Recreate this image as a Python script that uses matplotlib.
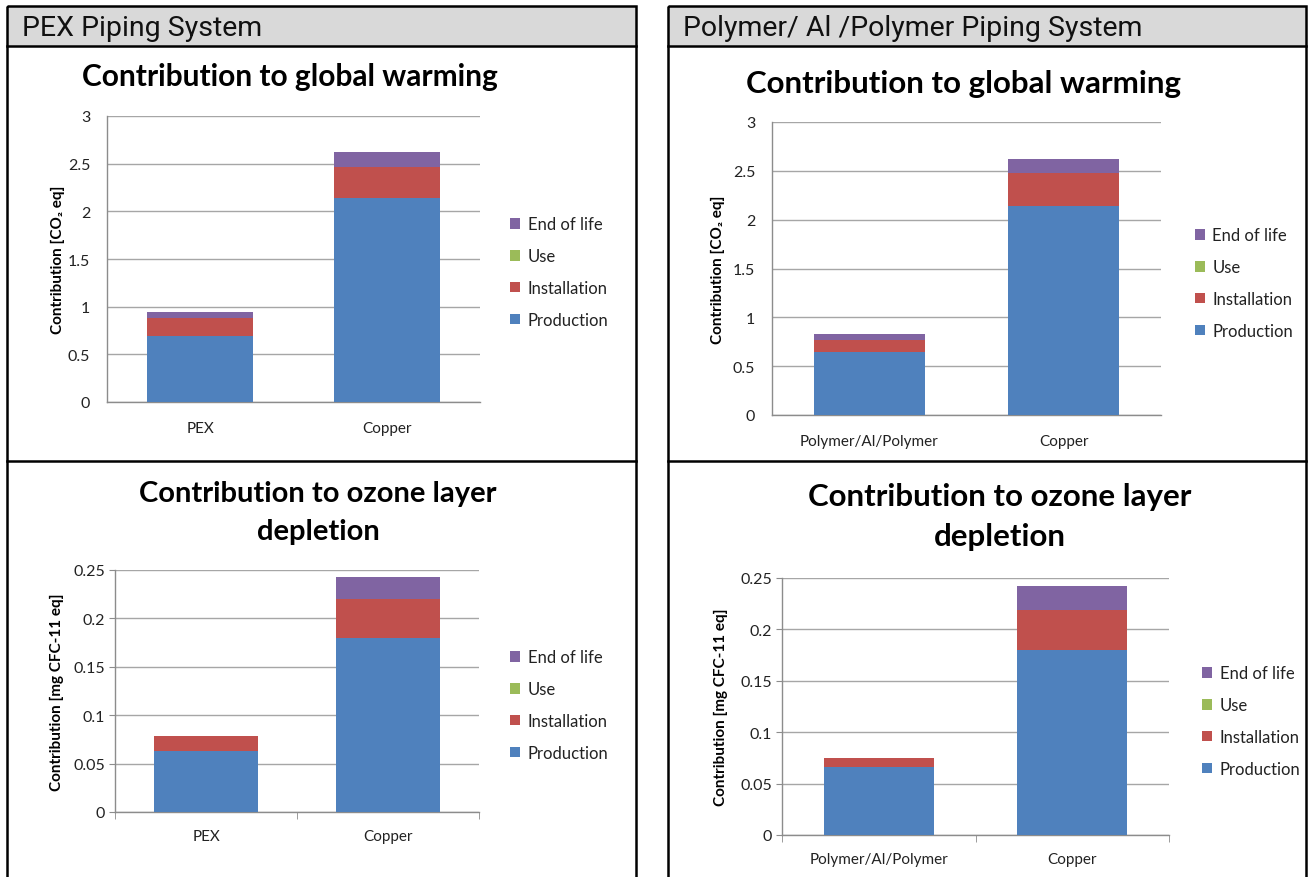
import matplotlib
matplotlib.use("Agg")
import matplotlib.pyplot as plt
from matplotlib.patches import Rectangle, Patch
from matplotlib.ticker import FuncFormatter

W, H = 1312, 878

plt.rcParams["font.family"] = ["Lato", "DejaVu Sans"]

# data
stages = ["Production", "Installation", "Use", "End of life"]
colors = ["#4F81BD", "#C0504D", "#9BBB59", "#8064A2"]

cats_pex = ["PEX", "Copper"]
cats_pap = ["Polymer/Al/Polymer", "Copper"]

gw_pex_production = [0.69, 2.14]
gw_pex_installation = [0.19, 0.33]
gw_pex_use = [0.0, 0.0]
gw_pex_eol = [0.06, 0.15]

gw_pap_production = [0.64, 2.14]
gw_pap_installation = [0.13, 0.34]
gw_pap_use = [0.0, 0.0]
gw_pap_eol = [0.055, 0.14]

oz_pex_production = [0.063, 0.180]
oz_pex_installation = [0.015, 0.040]
oz_pex_use = [0.0, 0.0]
oz_pex_eol = [0.0, 0.0225]

oz_pap_production = [0.066, 0.180]
oz_pap_installation = [0.0085, 0.039]
oz_pap_use = [0.0, 0.0]
oz_pap_eol = [0.0, 0.0235]

gw_ticks = [0, 0.5, 1, 1.5, 2, 2.5, 3]
oz_ticks = [0, 0.05, 0.1, 0.15, 0.2, 0.25]


def px_rect(l, t, r, b):
    return [l / W, 1 - b / H, (r - l) / W, (b - t) / H]


fig = plt.figure(figsize=(W / 100, H / 100), dpi=100)

# background frame: panels and headers
bg = fig.add_axes([0, 0, 1, 1])
bg.set_xlim(0, W)
bg.set_ylim(H, 0)
bg.axis("off")
for x0, x1, head in [(7, 636, "PEX Piping System"),
                     (668, 1306, "Polymer/ Al /Polymer Piping System")]:
    bg.add_patch(Rectangle((x0, 7), x1 - x0, 40, facecolor="#d9d9d9", edgecolor="none"))
    bg.add_patch(Rectangle((x0, 7), x1 - x0, H + 20, facecolor="none",
                           edgecolor="black", lw=1.8))
    bg.plot([x0, x1], [47, 47], color="black", lw=1.8)
    bg.plot([x0, x1], [462, 462], color="black", lw=1.8)
    bg.text(x0 + 15, 29, head, fontsize=20.5, family=["Roboto", "DejaVu Sans"],
            va="center", ha="left", color="#111111")


def draw_chart(rect, cats, prod, inst, use, eol, ticks, ymax, ylabel,
               title, title_xy, title_size, leg_xy, label_x, with_ticks):
    ax = fig.add_axes(px_rect(*rect))
    x = range(len(cats))
    bottom = [0.0] * len(cats)
    handles = []
    for name, vals, c in zip(stages, [prod, inst, use, eol], colors):
        ax.bar(x, vals, 0.57, bottom=bottom, color=c, edgecolor="none", zorder=3)
        bottom = [b + v for b, v in zip(bottom, vals)]
        handles.append(Patch(facecolor=c, edgecolor="none", label=name))
    ax.set_xlim(-0.5, len(cats) - 0.5)
    ax.set_ylim(0, ymax)
    ax.set_yticks(ticks)
    ax.yaxis.set_major_formatter(FuncFormatter(lambda v, p: "{:g}".format(v)))
    ax.set_xticks(list(x))
    ax.set_xticklabels(cats)
    ax.grid(axis="y", color="#a6a6a6", lw=1.0, zorder=0)
    for s in ["top", "right"]:
        ax.spines[s].set_visible(False)
    for s in ["left", "bottom"]:
        ax.spines[s].set_color("#8c8c8c")
        ax.spines[s].set_linewidth(1.0)
    if with_ticks:
        ax.tick_params(axis="y", length=4, color="#8c8c8c", labelsize=11.5,
                       labelcolor="#222222", pad=3)
        ax.tick_params(axis="x", length=0, labelsize=11, labelcolor="#222222", pad=12)
        ax.set_xticks([-0.5, 0.5, 1.5], minor=True)
        ax.tick_params(axis="x", which="minor", length=5, color="#8c8c8c")
    else:
        ax.tick_params(axis="y", length=0, labelsize=11.5, labelcolor="#222222", pad=12)
        ax.tick_params(axis="x", length=0, labelsize=11, labelcolor="#222222", pad=14)
    ax.set_ylabel(ylabel, fontsize=11, fontweight="bold")
    ax.yaxis.set_label_coords(label_x, 0.5)
    leg = ax.legend(handles=handles[::-1], loc="center left",
                    bbox_to_anchor=(leg_xy[0] / W, 1 - leg_xy[1] / H),
                    bbox_transform=fig.transFigure, frameon=False,
                    fontsize=12, handlelength=0.6, handleheight=0.6,
                    handletextpad=0.45, labelspacing=0.95)
    for t in leg.get_texts():
        t.set_color("#222222")
    fig.text(title_xy[0] / W, 1 - title_xy[1] / H, title, ha="center", va="center",
             fontsize=title_size, fontweight="bold", linespacing=1.55)
    return ax


draw_chart((107, 117, 480, 403), cats_pex, gw_pex_production, gw_pex_installation,
           gw_pex_use, gw_pex_eol, gw_ticks, 3, "Contribution [CO\u2082 eq]",
           "Contribution to global warming", (290, 77), 21.5, (495, 273), -0.113, False)

draw_chart((772, 123, 1161, 416), cats_pap, gw_pap_production, gw_pap_installation,
           gw_pap_use, gw_pap_eol, gw_ticks, 3, "Contribution [CO\u2082 eq]",
           "Contribution to global warming", (964, 84), 22.5, (1180, 284), -0.12, False)

draw_chart((115, 571, 479, 813), cats_pex, oz_pex_production, oz_pex_installation,
           oz_pex_use, oz_pex_eol, oz_ticks, 0.25, "Contribution [mg CFC-11 eq]",
           "Contribution to ozone layer\ndepletion", (318, 513), 21, (495, 706), -0.141, True)

draw_chart((782, 579, 1169, 836), cats_pap, oz_pap_production, oz_pap_installation,
           oz_pap_use, oz_pap_eol, oz_ticks, 0.25, "Contribution [mg CFC-11 eq]",
           "Contribution to ozone layer\ndepletion", (1000, 517), 22.5, (1187, 722), -0.139, True)

fig.savefig("out.png", dpi=100)
